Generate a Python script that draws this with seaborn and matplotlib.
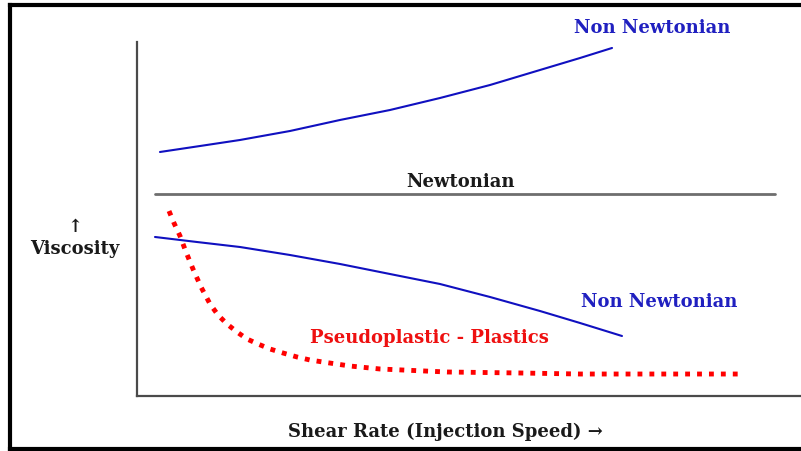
import matplotlib
matplotlib.use("Agg")
import matplotlib.pyplot as plt
from matplotlib.lines import Line2D
import seaborn as sns
import pandas as pd

# ---- data (arbitrary units: shear rate 0..100, viscosity 0..100) ----
upper_x = [3.46, 9.49, 15.51, 23.04, 30.57, 38.10, 45.63, 53.16, 60.69, 66.72, 71.54]
upper_y = [68.93, 70.62, 72.32, 74.86, 77.97, 80.79, 84.18, 87.85, 92.09, 95.48, 98.31]

lower_x = [2.71, 9.04, 15.51, 23.04, 30.57, 38.10, 45.63, 53.16, 60.69, 66.72, 73.04]
lower_y = [44.92, 43.50, 42.09, 39.83, 37.29, 34.46, 31.64, 27.97, 24.01, 20.62, 16.95]

pseudo_x = [4.82, 5.57, 6.48, 7.38, 8.43, 9.64, 11.0, 12.2, 13.55, 15.06, 16.57, 18.22,
            20.03, 21.99, 24.1, 26.05, 28.01, 32.08, 36.6, 46.69, 57.68, 66.72, 90.81]
pseudo_y = [52.26, 48.87, 45.2, 40.68, 35.88, 30.79, 25.99, 22.88, 20.34, 18.08, 16.1, 14.69,
            13.28, 12.15, 11.02, 10.17, 9.6, 8.47, 7.63, 6.78, 6.5, 6.21, 6.21]

newton_x = [2.7, 96.1]
newton_y = [57.1, 57.1]

label_upper = "Non Newtonian"
label_lower = "Non Newtonian"
label_newton = "Newtonian"
label_pseudo = "Pseudoplastic - Plastics"
label_y = "\u2191\nViscosity"
label_x = "Shear Rate (Injection Speed) \u2192"

# ---- figure ----
sns.set_style("white")
plt.rcParams["font.family"] = ["DejaVu Serif", "DejaVu Sans"]

W, H = 801, 452
fig = plt.figure(figsize=(W / 100, H / 100), dpi=100)


def fx(px):
    return px / W


def fy(py):
    return 1 - py / H


ax = fig.add_axes([fx(137), fy(397), (W - 137) / W, (397 - 43) / H])
ax.set_xlim(0, 100)
ax.set_ylim(0, 100)
ax.set_xticks([])
ax.set_yticks([])
for s in ["top", "right"]:
    ax.spines[s].set_visible(False)
for s in ["left", "bottom"]:
    ax.spines[s].set_color("#4a4a4a")
    ax.spines[s].set_linewidth(1.6)

df_up = pd.DataFrame({"x": upper_x, "y": upper_y})
df_lo = pd.DataFrame({"x": lower_x, "y": lower_y})
df_ps = pd.DataFrame({"x": pseudo_x, "y": pseudo_y})
df_nw = pd.DataFrame({"x": newton_x, "y": newton_y})

sns.lineplot(data=df_nw, x="x", y="y", ax=ax, color="#6e6e6e", linewidth=2.0,
             sort=False, estimator=None)
sns.lineplot(data=df_up, x="x", y="y", ax=ax, color="#1010c0", linewidth=1.5,
             sort=False, estimator=None)
sns.lineplot(data=df_lo, x="x", y="y", ax=ax, color="#1010c0", linewidth=1.5,
             sort=False, estimator=None)
sns.lineplot(data=df_ps, x="x", y="y", ax=ax, color="#ff0000", linewidth=3.5,
             sort=False, estimator=None)
ps_line = ax.get_lines()[-1]
ps_line.set_linestyle((0, (1, 1.45)))
ps_line.set_dash_capstyle("butt")
ax.set_xlabel("")
ax.set_ylabel("")

# ---- texts ----
blue = "#2020c0"
fs = 13
fig.text(fx(652), fy(28), label_upper, color=blue, fontsize=fs, fontweight="bold",
         ha="center", va="center")
fig.text(fx(461), fy(182), label_newton, color="#1a1a1a", fontsize=fs, fontweight="bold",
         ha="center", va="center")
fig.text(fx(659), fy(302), label_lower, color=blue, fontsize=fs, fontweight="bold",
         ha="center", va="center")
fig.text(fx(429), fy(338), label_pseudo, color="#ee1010", fontsize=fs, fontweight="bold",
         ha="center", va="center")
fig.text(fx(75), fy(238), label_y, color="#1a1a1a", fontsize=fs, fontweight="bold",
         ha="center", va="center", linespacing=1.25)
fig.text(fx(445), fy(432), label_x, color="#1a1a1a", fontsize=fs, fontweight="bold",
         ha="center", va="center")

# ---- outer frame ----
lw_frame = 3.0
fig.add_artist(Line2D([fx(10), fx(10)], [fy(5.5), fy(450)], transform=fig.transFigure,
                      color="black", linewidth=lw_frame, solid_capstyle="projecting"))
fig.add_artist(Line2D([fx(10), 1.05], [fy(5.5), fy(5.5)], transform=fig.transFigure,
                      color="black", linewidth=lw_frame, solid_capstyle="projecting"))
fig.add_artist(Line2D([fx(10), 1.05], [fy(450), fy(450)], transform=fig.transFigure,
                      color="black", linewidth=lw_frame, solid_capstyle="projecting"))

fig.savefig("out.png", dpi=100)
